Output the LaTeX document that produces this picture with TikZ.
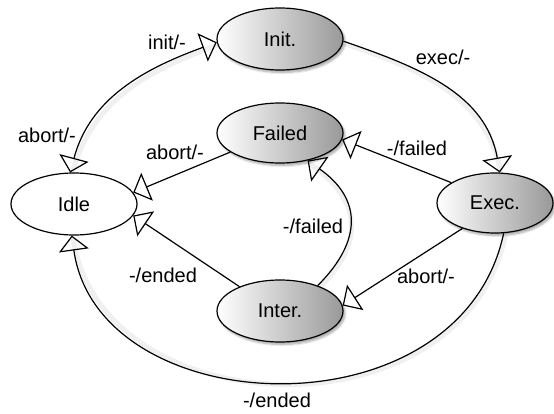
\documentclass[tikz,border=0pt]{standalone}
\usepackage{fontspec}
\setmainfont{Liberation Sans}
\usetikzlibrary{arrows.meta,shapes.geometric,shadows.blur}
\tikzset{opentri/.tip={Triangle[open,length=15pt,width=30pt]}}
\begin{document}
\begin{tikzpicture}[x=1pt,y=1pt,
  font=\fontsize{20}{23}\selectfont,
  state/.style={ellipse, draw=black, line width=1.2pt, minimum width=126pt, minimum height=62pt, inner sep=0pt, fill=white},
  shadedstate/.style={state, left color=white, right color=black!40,
     blur shadow={shadow xshift=2pt, shadow yshift=-2.5pt, shadow blur steps=6, shadow opacity=35}},
  edge/.style={draw=black, line width=1.2pt, -{opentri}},
  cshadow/.style={preaction={draw=black, opacity=0.06, line width=5pt, arrows=-, transform canvas={shift={(1.5pt,-2.5pt)}}}},
  lbl/.style={inner sep=1pt}
]
\useasboundingbox (0,0) rectangle (554,413);
\node[state] (idle) at (74,209) {Idle};
\node[shadedstate] (init) at (280,374) {Init.};
\node[shadedstate, minimum height=60pt] (failed) at (280,280) {Failed};
\node[shadedstate, minimum width=116pt, minimum height=60pt] (exec) at (495,210) {Exec.};
\node[shadedstate] (inter) at (280,102) {Inter.};

\draw[edge, {opentri}-{opentri}, cshadow] (idle.97) .. controls +(75:77) and +(200:77) .. (init.183);
\draw[edge, cshadow] (init.-2) .. controls +(-19:80) and +(100:80) .. (exec.81);
\draw[edge] (exec.155) -- (failed.-6);
\draw[edge] (failed.201) -- (idle.11);
\draw[edge] (inter.149) -- (idle.-11);
\draw[edge, cshadow] (inter.34) .. controls +(45:65) and +(-35:65) .. (failed.-45);
\draw[edge] (exec.218) -- (inter.5);
\draw[edge, cshadow] (exec.-74) .. controls +(-102:210) and +(-82:190) .. (idle.-94);

\node[lbl] (l1) at (167,371) {init/-};
\node[lbl] (l2) at (47,278) {abort/-};
\node[lbl] (l3) at (443,356) {exec/-};
\node[lbl] (l4) at (417,265) {-/failed};
\node[lbl] (l5) at (175,261) {abort/-};
\node[lbl] (l6) at (163,138) {-/ended};
\node[lbl] (l7) at (313,187) {-/failed};
\node[lbl] (l8) at (426,137) {abort/-};
\node[lbl] (l9) at (277,13) {-/ended};
\end{tikzpicture}
\end{document}
